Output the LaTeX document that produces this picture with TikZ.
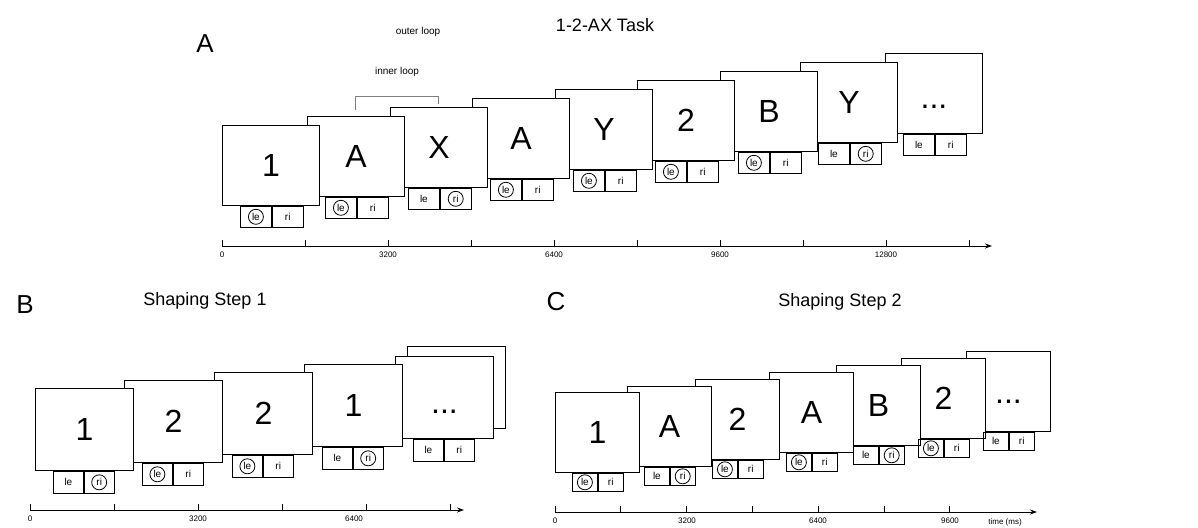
\documentclass[tikz,border=0pt]{standalone}
\usepackage{fontspec}
\setmainfont{Liberation Sans}
\usetikzlibrary{arrows.meta}
\newcommand\myfs[1]{\fontsize{#1}{#1}\selectfont}
\newcommand\mydots[1]{\vphantom{1}\raisebox{-#1pt}{...}}
% #1 name, #2 screen node, #3 circled side (l/r/n), #4 xshift, #5 extra style
\newcommand\rpair[5]{%
  \node[rbox,#5] (#1l) at ([xshift=#4pt]#2.south west) {le};
  \node[rbox,#5] (#1r) at (#1l.north east) {ri};
  \if l#3\node[ring] (#1c) at (#1l.center) {};\fi
  \if r#3\node[ring] (#1c) at (#1r.center) {};\fi}
\begin{document}
\begin{tikzpicture}[x=1pt,y=-1pt,
  screen/.style={draw=black, line width=0.9pt, fill=white, anchor=north west,
    inner sep=0pt, minimum width=97pt, minimum height=80pt, font=\myfs{32}},
  rbox/.style={draw=black, line width=0.8pt, anchor=north west, inner sep=0pt,
    minimum height=21pt, minimum width=31pt, font=\myfs{10}},
  ring/.style={draw=black, line width=0.8pt, circle, inner sep=0pt, minimum size=15pt},
  axis/.style={line width=0.9pt, -{Stealth[length=7pt,width=5pt]}},
  tickm/.style={line width=0.8pt},
  ticklab/.style={font=\myfs{8}, anchor=north, inner sep=1pt},
  panel/.style={font=\myfs{26}},
  ttl/.style={font=\myfs{18}},
  small/.style={font=\myfs{10}},
  loopline/.style={draw=gray, line width=1pt},
]
\useasboundingbox (0,0) rectangle (1198,527);

% ---------------- Panel A ----------------
\node[panel] (labA) at (205,44) {A};
\node[ttl] (titA) at (605,25) {1-2-AX Task};
\node[small] (outer) at (418,32) {outer loop};
\node[small] (inner) at (397,72) {inner loop};

\node[screen] (a9) at (885,53) {\mydots{8}};
\node[screen] (a8) at (800,62) {Y};
\node[screen] (a7) at (720,71) {B};
\node[screen] (a6) at (637,80) {2};
\node[screen] (a5) at (555,89) {Y};
\node[screen] (a4) at (472,98) {A};
\node[screen] (a3) at (390,107) {X};
\node[screen] (a2) at (307,116) {A};
\node[screen] (a1) at (222,125) {1};

\rpair{ra1}{a1}{l}{18}{}
\rpair{ra2}{a2}{l}{18}{}
\rpair{ra3}{a3}{r}{18}{}
\rpair{ra4}{a4}{l}{18}{}
\rpair{ra5}{a5}{l}{18}{}
\rpair{ra6}{a6}{l}{18}{}
\rpair{ra7}{a7}{l}{18}{}
\rpair{ra8}{a8}{r}{18}{}
\rpair{ra9}{a9}{n}{18}{}

\coordinate (il1) at (355.5,110);
\coordinate (il2) at (355.5,96);
\coordinate (il3) at (438.5,96);
\coordinate (il4) at (438.5,104);
\draw[loopline] (il1) -- (il2) -- (il3) -- (il4);

\coordinate (ax0) at (222,246);
\coordinate (ax1) at (992,246);
\draw[axis] (ax0) -- (ax1);
\foreach \i in {0,...,9} \draw[tickm] (222+83*\i,246) -- ++(0,-6);
\node[ticklab] (ta0) at (222,251) {0};
\node[ticklab] (ta1) at (388,251) {3200};
\node[ticklab] (ta2) at (554,251) {6400};
\node[ticklab] (ta3) at (720,251) {9600};
\node[ticklab] (ta4) at (886,251) {12800};

% ---------------- Panel B ----------------
\node[panel] (labB) at (25,305) {B};
\node[ttl] (titB) at (205,301) {Shaping Step 1};

\node[screen, minimum width=98pt, minimum height=82pt] (b6) at (407,346) {};
\node[screen, minimum width=98pt, minimum height=82pt] (b5) at (395,356) {\mydots{10}};
\node[screen, minimum width=98pt, minimum height=82pt] (b4) at (304,364) {1};
\node[screen, minimum width=98pt, minimum height=82pt] (b3) at (214,372) {2};
\node[screen, minimum width=98pt, minimum height=82pt] (b2) at (124,380) {2};
\node[screen, minimum width=98pt, minimum height=82pt] (b1) at (35,388) {1};

\rpair{rb1}{b1}{r}{18}{minimum width=30pt, minimum height=22pt}
\rpair{rb2}{b2}{l}{18}{minimum width=30pt, minimum height=22pt}
\rpair{rb3}{b3}{l}{18}{minimum width=30pt, minimum height=22pt}
\rpair{rb4}{b4}{r}{18}{minimum width=30pt, minimum height=22pt}
\rpair{rb5}{b5}{n}{18}{minimum width=30pt, minimum height=22pt}

\coordinate (bx0) at (30,510);
\coordinate (bx1) at (464,510);
\draw[axis] (bx0) -- (bx1);
\foreach \i in {0,...,5} \draw[tickm] (30+84*\i,510) -- ++(0,-6);
\node[ticklab] (tb0) at (30,515) {0};
\node[ticklab] (tb1) at (198,515) {3200};
\node[ticklab] (tb2) at (354,515) {6400};

% ---------------- Panel C ----------------
\node[panel] (labC) at (556,302) {C};
\node[ttl] (titC) at (840,302) {Shaping Step 2};

\node[screen, minimum width=84pt] (c7) at (966,351) {\mydots{2}};
\node[screen, minimum width=84pt] (c6) at (901,358) {2};
\node[screen, minimum width=84pt] (c5) at (836,365) {B};
\node[screen, minimum width=84pt] (c4) at (769,372) {A};
\node[screen, minimum width=84pt] (c3) at (695,379) {2};
\node[screen, minimum width=84pt] (c2) at (627,386) {A};
\node[screen, minimum width=84pt] (c1) at (555,392) {1};

\rpair{rc1}{c1}{l}{17}{minimum width=25pt, minimum height=18pt}
\rpair{rc2}{c2}{r}{17}{minimum width=25pt, minimum height=18pt}
\rpair{rc3}{c3}{l}{17}{minimum width=25pt, minimum height=18pt}
\rpair{rc4}{c4}{l}{17}{minimum width=25pt, minimum height=18pt}
\rpair{rc5}{c5}{r}{17}{minimum width=25pt, minimum height=18pt}
\rpair{rc6}{c6}{l}{17}{minimum width=25pt, minimum height=18pt}
\rpair{rc7}{c7}{n}{17}{minimum width=25pt, minimum height=18pt}

\coordinate (cx0) at (555,512);
\coordinate (cx1) at (1037,512);
\draw[axis] (cx0) -- (cx1);
\foreach \i in {0,...,6} \draw[tickm] (555+65.8*\i,512) -- ++(0,-6);
\node[ticklab] (tc0) at (555,517) {0};
\node[ticklab] (tc1) at (687,517) {3200};
\node[ticklab] (tc2) at (818,517) {6400};
\node[ticklab] (tc3) at (950,517) {9600};
\node[ticklab] (tc4) at (1005,517) {time (ms)};
\end{tikzpicture}
\end{document}
